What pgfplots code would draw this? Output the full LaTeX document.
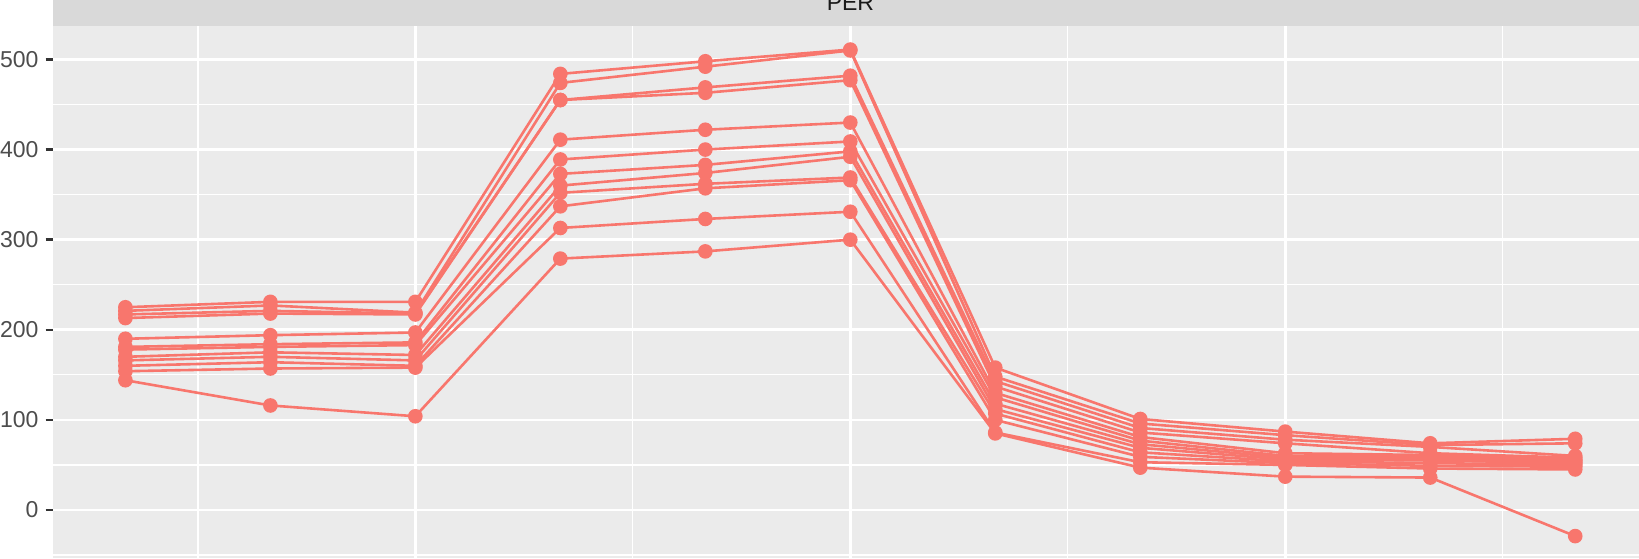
\documentclass[border=0pt]{standalone}
\usepackage{fontspec}
\setmainfont{Liberation Sans}
\usepackage{pgfplots}
\usepackage{pgfplotstable}
\pgfplotsset{compat=1.18}

\definecolor{panelgray}{HTML}{EBEBEB}
\definecolor{stripgray}{HTML}{D9D9D9}
\definecolor{ticktext}{HTML}{4D4D4D}
\definecolor{tickmark}{HTML}{333333}
\definecolor{striptext}{HTML}{1A1A1A}
\definecolor{serie}{HTML}{F8766D}

% one column per series, one row per x position
\pgfplotstableread{
x  s1  s2  s3  s4  s5  s6  s7  s8  s9  s10 s11 s12
1  225 221 217 213 190 181 178 170 166 160 154 144
2  231 227 221 218 194 184 181 175 170 164 157 116
3  231 219 218 217 197 186 183 172 166 160 158 104
4  484 474 455 455 411 389 373 360 352 337 313 279
5  498 492 469 463 422 400 383 374 362 357 323 287
6  511 510 482 477 430 409 398 392 369 366 331 300
7  158 148 143 137 130 125 118 112 107 100 86  85
8  101 96  91  86  81  77  73  69  64  59  53  47
9  87  83  78  74  63  60  58  56  54  52  50  37
10 74  72  70  63  61  59  57  55  52  49  46  36
11 79  74  60  58  56  55  53  52  50  48  45  -29
}\perdata

\begin{document}
\begin{tikzpicture}
\begin{axis}[
    at={(0,0)}, anchor=south west,
    scale only axis,
    width=793.05pt, height=266.2pt,
    xmin=0.5, xmax=11.44,
    ymin=-53.3, ymax=537.6,
    axis background/.style={fill=panelgray},
    axis line style={draw=none},
    xtick={3,6,9}, minor xtick={1.5,4.5,7.5,10.5},
    xticklabels={}, x tick style={draw=none},
    ytick={0,100,200,300,400,500},
    minor ytick={-50,50,150,250,350,450},
    ytick pos=left,
    tick align=outside,
    major tick length=3.7pt, minor tick length=0pt,
    y tick style={tickmark, line width=1.2pt},
    grid=both,
    major grid style={white, line width=1.3pt},
    minor grid style={white, line width=0.65pt},
    yticklabel style={text=ticktext, font=\fontsize{11.5}{12}\selectfont},
    /pgf/number format/assume math mode=true,
]
\pgfplotsinvokeforeach{1,...,12}{
  \addplot[serie, solid, line width=1.3pt, mark=*, mark size=3pt,
      mark options={solid, fill=serie, draw=serie}]
      table[x=x, y=s#1] {\perdata};
}
\end{axis}
\fill[stripgray] (0,266.2pt) rectangle (830pt,300pt);
\node[anchor=base, text=striptext, font=\fontsize{11.5}{12}\selectfont, inner sep=0pt]
    at (398.75pt,273.5pt) {PER};
\pgfresetboundingbox
\path[use as bounding box] (-26.45pt,0) rectangle (793.05pt,279pt);
\end{tikzpicture}
\end{document}
